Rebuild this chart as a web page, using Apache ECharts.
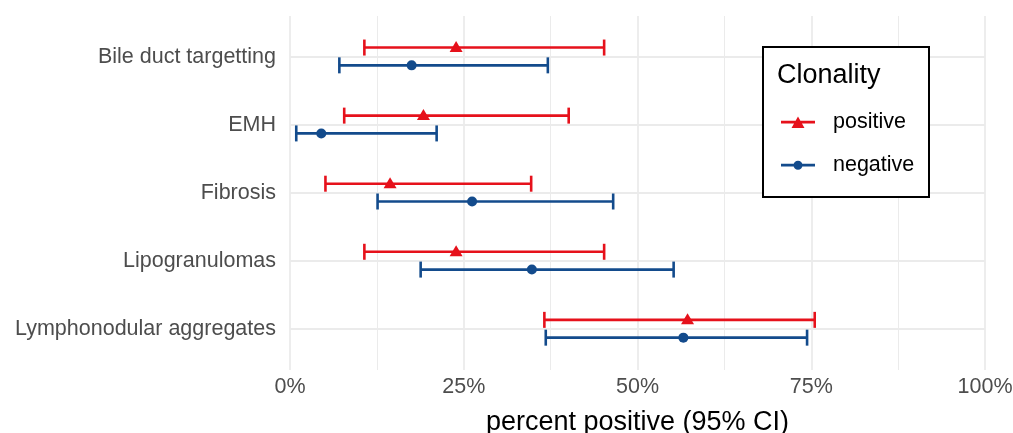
<!DOCTYPE html>
<html>
<head>
<meta charset="utf-8">
<script src="https://cdn.jsdelivr.net/npm/echarts@6/dist/echarts.min.js"></script>
<style>html,body{margin:0;padding:0;background:#fff}#c{width:1013px;height:433px}</style>
</head>
<body>
<div id="c"></div>
<script>
const categories = ['Bile duct targetting', 'EMH', 'Fibrosis', 'Lipogranulomas', 'Lymphonodular aggregates'];
const posEst  = [23.9, 19.2, 14.4, 23.9, 57.2];
const posLow  = [10.7, 7.8, 5.1, 10.7, 36.6];
const posHigh = [45.2, 40.1, 34.7, 45.2, 75.5];
const negEst  = [17.5, 4.5, 26.2, 34.8, 56.6];
const negLow  = [7.1, 0.9, 12.6, 18.8, 36.8];
const negHigh = [37.1, 21.1, 46.5, 55.2, 74.4];
const xTicks = [0, 25, 50, 75, 100];
const seriesNames = ['positive', 'negative'];
const legendTitle = 'Clonality';
const xTitle = 'percent positive (95% CI)';

const RED = '#E6111B', BLUE = '#134B8C';
const FONT = 'Liberation Sans, Arial, sans-serif';

function errorBar(color, off) {
  return function (params, api) {
    const yi = api.value(0);
    const p1 = api.coord([api.value(1), yi]);
    const p2 = api.coord([api.value(2), yi]);
    const y = p1[1] + off;
    const st = { stroke: color, lineWidth: 2.6 };
    return {
      type: 'group',
      children: [
        { type: 'line', shape: { x1: p1[0], y1: y, x2: p2[0], y2: y }, style: st },
        { type: 'line', shape: { x1: p1[0], y1: y - 8, x2: p1[0], y2: y + 8 }, style: st },
        { type: 'line', shape: { x1: p2[0], y1: y - 8, x2: p2[0], y2: y + 8 }, style: st }
      ]
    };
  };
}

const OFF_P = -9.3, OFF_N = 8.5;
const chart = echarts.init(document.getElementById('c'), null, { renderer: 'canvas' });
chart.setOption({
  animation: false,
  textStyle: { fontFamily: FONT },
  grid: { left: 290, right: 28, top: 16, bottom: 63, containLabel: false, outerBoundsMode: 'none' },
  xAxis: {
    type: 'value', min: 0, max: 100, interval: 25,
    axisLine: { show: false }, axisTick: { show: false },
    axisLabel: { formatter: '{value}%', fontSize: 21.5, color: '#4D4D4D', margin: 6, fontFamily: FONT },
    splitLine: { show: true, lineStyle: { color: '#EBEBEB', width: 1.8 } },
    minorTick: { show: false, splitNumber: 2 },
    minorSplitLine: { show: true, lineStyle: { color: '#EBEBEB', width: 1 } },
    name: xTitle, nameLocation: 'middle', nameGap: 39,
    nameTextStyle: { fontSize: 27, color: '#000', fontFamily: FONT }
  },
  yAxis: {
    type: 'value', inverse: true, min: -0.6, max: 4.6,
    axisLine: { show: false },
    axisTick: { show: false, customValues: categories.map((c, i) => i) },
    axisLabel: { customValues: categories.map((c, i) => i), formatter: v => categories[Math.round(v)],
      fontSize: 21.5, color: '#4D4D4D', margin: 14, fontFamily: FONT },
    splitLine: { show: true, lineStyle: { color: '#EBEBEB', width: 1.8 } }
  },
  legend: {
    orient: 'vertical', left: 781, top: 111, padding: 0, itemWidth: 34, itemHeight: 12, itemGap: 21,
    selectedMode: false, z: 10,
    textStyle: { fontSize: 21.5, color: '#000', padding: [0, 0, 0, 13], fontFamily: FONT },
    data: [
      { name: seriesNames[0], icon: 'path://M0,4.8 L34,4.8 L34,7.6 L0,7.6 Z M10.5,12 L17,0.5 L23.5,12 Z M17,0 L17,0 Z', itemStyle: { color: RED } },
      { name: seriesNames[1], icon: 'path://M0,4.8 L13,4.8 L13,7.6 L0,7.6 Z M21,4.8 L34,4.8 L34,7.6 L21,7.6 Z M12.5,6.2 A4.5,4.5 0 1,1 21.5,6.2 A4.5,4.5 0 1,1 12.5,6.2 Z M17,0 L17,0 Z M17,12 L17,12 Z', itemStyle: { color: BLUE } }
    ]
  },
  graphic: [
    { type: 'rect', z: 5, shape: { x: 763, y: 47, width: 166, height: 150 }, style: { fill: '#fff', stroke: '#000', lineWidth: 2 } },
    { type: 'text', z: 6, x: 777, y: 76, style: { text: legendTitle, fontSize: 27, fill: '#000', fontFamily: FONT, verticalAlign: 'middle' } }
  ],
  series: [
    { name: seriesNames[0], type: 'custom', renderItem: errorBar(RED, OFF_P), itemStyle: { color: RED },
      encode: { x: [1, 2], y: 0 }, data: categories.map((c, i) => [i, posLow[i], posHigh[i]]), z: 3 },
    { name: seriesNames[1], type: 'custom', renderItem: errorBar(BLUE, OFF_N), itemStyle: { color: BLUE },
      encode: { x: [1, 2], y: 0 }, data: categories.map((c, i) => [i, negLow[i], negHigh[i]]), z: 3 },
    { name: seriesNames[0], type: 'scatter', symbol: 'triangle', symbolSize: [13, 11], symbolOffset: [0, OFF_P - 1],
      itemStyle: { color: RED, opacity: 1 }, data: posEst.map((v, i) => [v, i]), z: 4 },
    { name: seriesNames[1], type: 'scatter', symbol: 'circle', symbolSize: 10, symbolOffset: [0, OFF_N],
      itemStyle: { color: BLUE, opacity: 1 }, data: negEst.map((v, i) => [v, i]), z: 4 }
  ]
});
</script>
</body>
</html>
